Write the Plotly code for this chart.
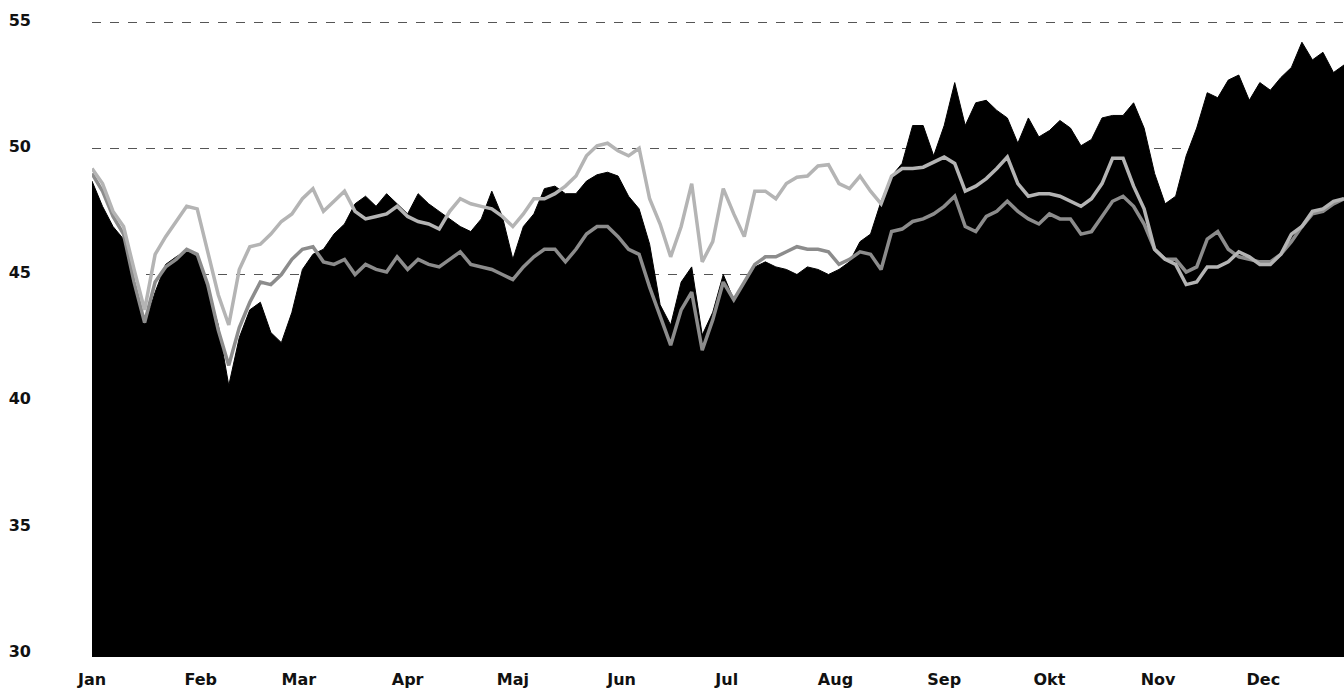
import datetime as dt
import plotly.graph_objects as go

# sampling grid: every 3 days from 1 January
days = list(range(0, 360, 3))

month_labels = ["Jan", "Feb", "Mar", "Apr", "Maj", "Jun", "Jul", "Aug", "Sep", "Okt", "Nov", "Dec"]
y_ticks = [30, 35, 40, 45, 50, 55]

black_area = [
    48.7, 47.7, 46.9, 46.4, 44.6, 43.0, 44.3, 45.4, 45.7, 45.95,
    45.7, 44.4, 43.0, 40.6, 42.5, 43.6, 43.9, 42.7, 42.3, 43.5,
    45.2, 45.8, 46.0, 46.6, 47.0, 47.8, 48.1, 47.7, 48.2,
    47.8, 47.4, 48.2, 47.8, 47.5, 47.2, 46.9, 46.7, 47.2, 48.3,
    47.3, 45.6, 46.9, 47.4, 48.4, 48.5, 48.2, 48.2, 48.7, 48.95,
    49.05, 48.9, 48.1, 47.6, 46.2, 43.8, 43.0, 44.7, 45.3, 42.6,
    43.5, 45.0, 44.0, 44.6, 45.3, 45.5, 45.3, 45.2, 45.0, 45.3,
    45.2, 45.0, 45.2, 45.5, 46.3, 46.6, 47.9, 48.9, 49.4,
    50.9, 50.9, 49.7, 50.9, 52.6, 50.9, 51.8, 51.9, 51.5, 51.2,
    50.2, 51.2, 50.45, 50.7, 51.1, 50.8, 50.1, 50.35, 51.2, 51.3,
    51.3, 51.8, 50.8, 49.0, 47.8, 48.1, 49.7, 50.8, 52.2, 52.0,
    52.7, 52.9, 51.9, 52.6, 52.3, 52.8, 53.2, 54.2, 53.5, 53.8,
    53.0, 53.3,
]

light_line = [
    49.2, 48.6, 47.5, 46.9, 45.2, 43.6, 45.8, 46.5, 47.1, 47.7,
    47.6, 45.9, 44.2, 43.0, 45.2, 46.1, 46.2, 46.6, 47.1, 47.4,
    48.0, 48.4, 47.5, 47.9, 48.3, 47.5, 47.2, 47.3, 47.4,
    47.7, 47.3, 47.1, 47.0, 46.8, 47.5, 48.0, 47.8, 47.7, 47.6,
    47.3, 46.9, 47.4, 48.0, 48.0, 48.2, 48.5, 48.9, 49.7, 50.1,
    50.2, 49.9, 49.7, 50.0, 48.0, 47.0, 45.7, 46.9, 48.6, 45.5,
    46.3, 48.4, 47.4, 46.5, 48.3, 48.3, 48.0, 48.6, 48.85, 48.9,
    49.3, 49.35, 48.6, 48.4, 48.9, 48.3, 47.8, 48.9, 49.2,
    49.2, 49.25, 49.45, 49.65, 49.4, 48.3, 48.5, 48.8, 49.2, 49.65,
    48.6, 48.1, 48.2, 48.2, 48.1, 47.9, 47.7, 48.0, 48.6, 49.6,
    49.6, 48.5, 47.6, 46.0, 45.6, 45.4, 44.6, 44.7, 45.3, 45.3,
    45.5, 45.9, 45.7, 45.4, 45.4, 45.8, 46.6, 46.9, 47.5, 47.6,
    47.9, 48.0,
]

medium_line = [
    49.0, 48.3, 47.3, 46.6, 44.7, 43.1, 44.7, 45.3, 45.6, 46.0,
    45.8, 44.6, 42.8, 41.4, 42.9, 43.9, 44.7, 44.6, 45.0, 45.6,
    46.0, 46.1, 45.5, 45.4, 45.6, 45.0, 45.4, 45.2, 45.1,
    45.7, 45.2, 45.6, 45.4, 45.3, 45.6, 45.9, 45.4, 45.3, 45.2,
    45.0, 44.8, 45.3, 45.7, 46.0, 46.0, 45.5, 46.0, 46.6, 46.9,
    46.9, 46.5, 46.0, 45.8, 44.5, 43.3, 42.2, 43.6, 44.3, 42.0,
    43.2, 44.7, 44.0, 44.7, 45.4, 45.7, 45.7, 45.9, 46.1, 46.0,
    46.0, 45.9, 45.4, 45.6, 45.9, 45.8, 45.2, 46.7, 46.8,
    47.1, 47.2, 47.4, 47.7, 48.1, 46.9, 46.7, 47.3, 47.5, 47.9,
    47.5, 47.2, 47.0, 47.4, 47.2, 47.2, 46.6, 46.7, 47.3, 47.9,
    48.1, 47.7, 47.0, 46.0, 45.6, 45.6, 45.1, 45.3, 46.4, 46.7,
    46.0, 45.7, 45.6, 45.5, 45.5, 45.8, 46.3, 46.9, 47.4, 47.5,
    47.8, 48.0,
]

# month-start positions (day of year)
year_start = dt.date(2011, 1, 1)
month_starts = [(dt.date(2011, m, 1) - year_start).days for m in range(1, 13)]

fig = go.Figure()
fig.add_trace(go.Scatter(
    x=days, y=black_area, mode="lines", fill="tozeroy",
    line=dict(color="#000000", width=1), fillcolor="#000000",
    hoverinfo="skip", showlegend=False,
))
fig.add_trace(go.Scatter(
    x=days, y=medium_line, mode="lines",
    line=dict(color="#8c8c8c", width=3.5), showlegend=False,
))
fig.add_trace(go.Scatter(
    x=days, y=light_line, mode="lines",
    line=dict(color="#b4b4b4", width=3.5), showlegend=False,
))

tick_font = dict(family="DejaVu Sans", size=16, color="#111111", weight="bold")

fig.update_layout(
    width=1344, height=691,
    margin=dict(l=92, r=0, t=20, b=34),
    paper_bgcolor="#ffffff", plot_bgcolor="#ffffff",
    showlegend=False,
    xaxis=dict(
        range=[0, 357], tickmode="array", tickvals=month_starts,
        ticktext=month_labels, showgrid=False, zeroline=False,
        showline=False, ticks="", tickfont=tick_font,
        ticklabelstandoff=11,
    ),
    yaxis=dict(
        range=[29.85, 55.08], tickmode="array", tickvals=y_ticks,
        ticktext=[str(v) for v in y_ticks],
        showgrid=True, gridcolor="#555555", griddash="dash", gridwidth=1,
        zeroline=False, showline=False, ticks="", tickfont=tick_font,
        ticklabelstandoff=60, ticklabelshift=-2,
    ),
)

fig.write_html(
    "out.html",
    config={"displayModeBar": False},
    post_script="document.body.style.margin='0px';document.body.style.overflow='hidden';",
)
